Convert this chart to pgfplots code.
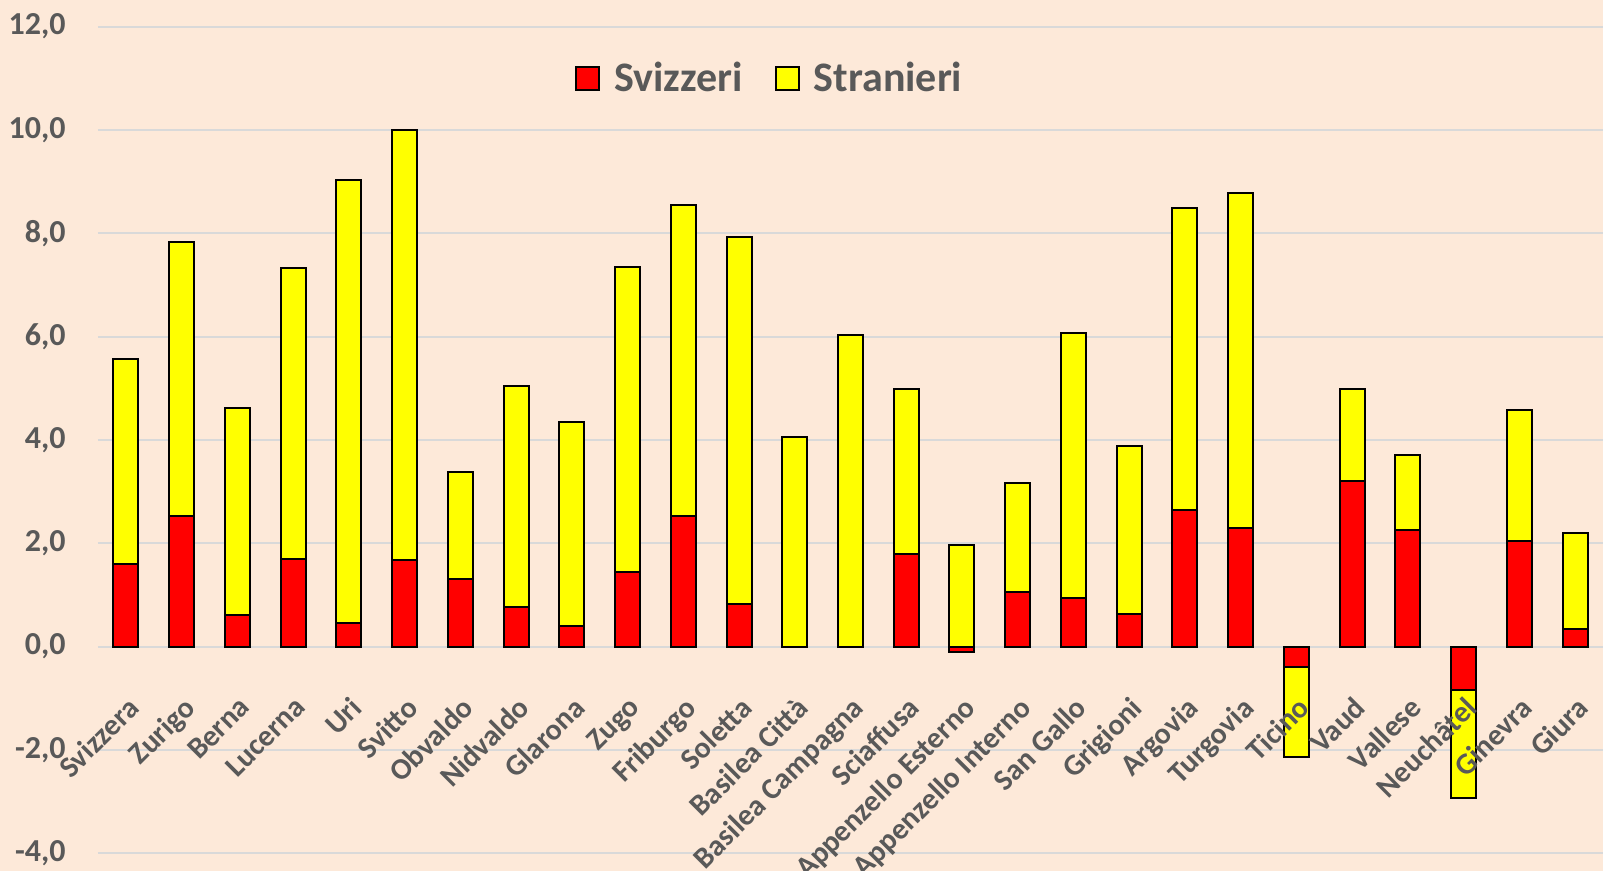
\documentclass[border=0pt]{standalone}
\usepackage{fontspec}
\setmainfont{Carlito}
\usepackage{pgfplots}
\pgfplotsset{compat=1.18}
\definecolor{bg}{HTML}{FDE9D9}
\definecolor{txt}{HTML}{595959}
\definecolor{grd}{HTML}{D9D9D9}
\definecolor{cred}{HTML}{FF0000}
\definecolor{cyel}{HTML}{FFFF00}
\pgfplotsset{
  common/.style={
    scale only axis, width=752.5bp, height=413.3bp,
    xmin=-0.5, xmax=26.5, ymin=-4, ymax=12,
    axis x line*=middle, axis y line*=left,
    axis line style={draw=none},
    major tick length=0pt,
    ytick={-4,-2,...,12},
    xtick={0,...,26},
  }
}
\begin{document}
\begin{tikzpicture}
\path[fill=bg, use as bounding box] (-49bp,-8.85bp) rectangle (752.5bp,426.6bp);
\begin{axis}[
  common,
  ybar stacked, stack negative=separate, bar width=12.5bp,
  ymajorgrids, major grid style={draw=grd, line width=1bp},
  xticklabels={},
  yticklabel style={font=\fontsize{16bp}{19bp}\selectfont\bfseries, text=txt, inner sep=0pt, xshift=-16bp},
  /pgf/number format/.cd, fixed, fixed zerofill, precision=1, use comma, assume math mode=true,
  /pgfplots/.cd,
  legend columns=2,
  legend style={draw=none, fill=none, at={(0.447,0.937)}, anchor=center,
    font=\fontsize{21bp}{25bp}\selectfont\bfseries, text=txt,
    /tikz/every odd column/.append style={column sep=5bp},
    /tikz/every even column/.append style={column sep=14bp}},
  legend image code/.code={\draw[#1, line width=1bp] (0bp,-5.75bp) rectangle (11.5bp,5.75bp);},
]
\addplot[fill=cred, draw=black, line width=1bp] coordinates {
(0,1.60) (1,2.52) (2,0.62) (3,1.70) (4,0.45) (5,1.68) (6,1.30) (7,0.77) (8,0.39)
(9,1.44) (10,2.52) (11,0.83) (12,0.0) (13,0.0) (14,1.79) (15,-0.10) (16,1.05)
(17,0.94) (18,0.63) (19,2.65) (20,2.29) (21,-0.40) (22,3.21) (23,2.25) (24,-0.85)
(25,2.05) (26,0.34)};
\addplot[fill=cyel, draw=black, line width=1bp] coordinates {
(0,3.97) (1,5.31) (2,4.00) (3,5.62) (4,8.58) (5,8.32) (6,2.07) (7,4.27) (8,3.95)
(9,5.91) (10,6.03) (11,7.09) (12,4.05) (13,6.04) (14,3.19) (15,1.97) (16,2.12)
(17,5.12) (18,3.26) (19,5.83) (20,6.48) (21,-1.73) (22,1.77) (23,1.45) (24,-2.08)
(25,2.53) (26,1.85)};
\legend{Svizzeri,Stranieri}
\end{axis}
\begin{axis}[
  common,
  yticklabels={},
  xticklabels={Svizzera,Zurigo,Berna,Lucerna,Uri,Svitto,Obvaldo,Nidvaldo,Glarona,Zugo,Friburgo,Soletta,Basilea Città,Basilea Campagna,Sciaffusa,Appenzello Esterno,Appenzello Interno,San Gallo,Grigioni,Argovia,Turgovia,Ticino,Vaud,Vallese,Neuchâtel,Ginevra,Giura},
  xticklabel style={rotate=45, anchor=north east, font=\fontsize{15bp}{18bp}\selectfont\bfseries, text=txt, inner sep=1bp, xshift=-16bp, yshift=-16bp},
]
\end{axis}
\end{tikzpicture}
\end{document}
